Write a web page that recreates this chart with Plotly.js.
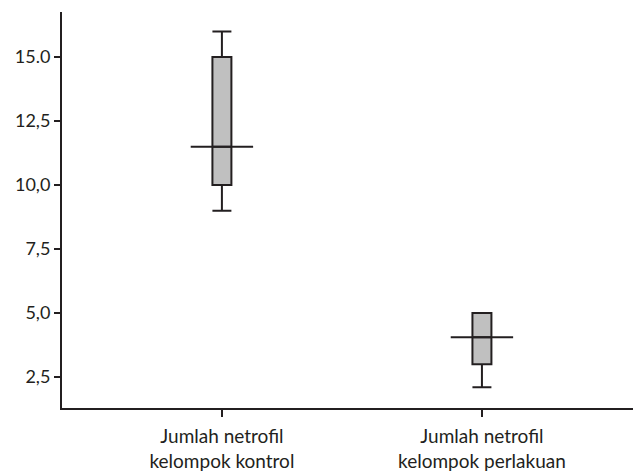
<!DOCTYPE html>
<html><head><meta charset="utf-8">
<script src="https://cdn.plot.ly/plotly-3.0.1.min.js"></script>
<style>html,body{margin:0;padding:0;background:#fff}</style>
</head><body><div id="chart" style="width:635px;height:473px"></div>
<script>
var categories = ["Jumlah netrofil<br>kelompok kontrol", "Jumlah netrofil<br>kelompok perlakuan"];
var lowerFence = [9, 2.1];
var q1 = [10, 3];
var median = [11.5, 4.05];
var q3 = [15, 5];
var upperFence = [16, 5];
var yTickVals = [2.5, 5, 7.5, 10, 12.5, 15];
var yTickText = ["2,5", "5,0", "7,5", "10,0", "12,5", "15.0"];

var pos = categories.map(function(c, i){ return i; });
var lineCol = "#231f20";
var medX = [], medY = [];
pos.forEach(function(p, i){
  medX.push(p - 0.12, p + 0.12, null);
  medY.push(median[i], median[i], null);
});

var data = [
  {
    type: "box", x: pos, q1: q1, median: median, q3: q3,
    lowerfence: lowerFence, upperfence: upperFence,
    width: 0.073, whiskerwidth: 1,
    fillcolor: "#c0c0c0", line: {color: lineCol, width: 2},
    boxpoints: false, hoverinfo: "skip", showlegend: false
  },
  {
    type: "scatter", mode: "lines", x: medX, y: medY,
    line: {color: lineCol, width: 2}, hoverinfo: "skip", showlegend: false
  }
];

var layout = {
  width: 635, height: 473,
  margin: {l: 62, r: 2, t: 12, b: 65},
  paper_bgcolor: "#fff", plot_bgcolor: "#fff",
  font: {family: "Lato, 'Open Sans', sans-serif", size: 18, color: "#231f20"},
  showlegend: false,
  xaxis: {
    range: [-0.615, 1.581], tickvals: pos, ticktext: categories,
    showgrid: false, zeroline: false, showline: true, linecolor: lineCol, linewidth: 2,
    ticks: "outside", ticklen: 7, tickwidth: 2, tickcolor: lineCol,
    tickfont: {size: 19}, ticklabelstandoff: 3
  },
  yaxis: {
    range: [1.29, 16.76], tickvals: yTickVals, ticktext: yTickText,
    showgrid: false, zeroline: false, showline: true, linecolor: lineCol, linewidth: 2,
    ticks: "outside", ticklen: 6, tickwidth: 2, tickcolor: lineCol,
    tickfont: {size: 18}
  }
};
Plotly.newPlot("chart", data, layout, {staticPlot: true, displayModeBar: false});
</script></body></html>
